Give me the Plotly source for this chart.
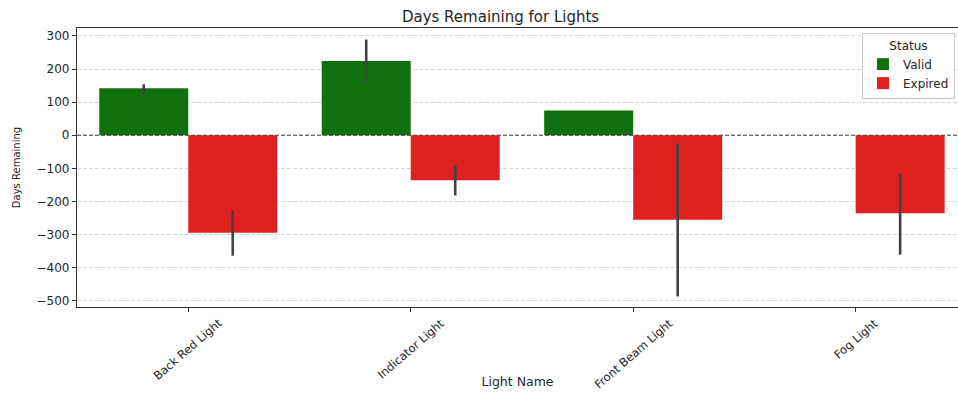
import plotly.graph_objects as go

# Light categories and mean days remaining per status, with CI bounds
lights = ["Back Red Light", "Indicator Light", "Front Beam Light", "Fog Light"]

valid_mean = [142, 224, 75, None]
valid_ci_low = [126, 162, None, None]
valid_ci_high = [154, 289, None, None]

expired_mean = [-295, -136, -255, -236]
expired_ci_low = [-364, -182, -487, -361]
expired_ci_high = [-227, -91, -25, -116]

statuses = ["Valid", "Expired"]
colors = {"Valid": "#107010", "Expired": "#df2020"}

y_ticks = [300, 200, 100, 0, -100, -200, -300, -400, -500]

TEXT = "#262626"
FONT = "DejaVu Sans"


def err_up(mean, high):
    return [None if m is None or h is None else h - m for m, h in zip(mean, high)]


def err_down(mean, low):
    return [None if m is None or l is None else m - l for m, l in zip(mean, low)]


fig = go.Figure()
for name, mean, lo, hi in [
    ("Valid", valid_mean, valid_ci_low, valid_ci_high),
    ("Expired", expired_mean, expired_ci_low, expired_ci_high),
]:
    fig.add_trace(go.Bar(
        x=lights,
        y=mean,
        name=name,
        marker=dict(color=colors[name], line=dict(width=0)),
        error_y=dict(
            type="data", symmetric=False,
            array=err_up(mean, hi), arrayminus=err_down(mean, lo),
            color="#424242", thickness=2.6, width=0,
        ),
    ))

# Dashed reference line at zero
fig.add_shape(type="line", xref="paper", yref="y", x0=0, x1=1, y0=0, y1=0,
              line=dict(color="#444444", width=1, dash="4px,2px"), layer="above")

# Rotated category labels centred under each tick
for name in lights:
    fig.add_annotation(x=name, xref="x", y=-0.022, yref="paper",
                       text=name, showarrow=False, textangle=-41,
                       xanchor="center", yanchor="top",
                       font=dict(family=FONT, size=11.5, color=TEXT))

fig.update_layout(
    width=958, height=399,
    margin=dict(l=77, r=0, t=28, b=92),
    paper_bgcolor="white", plot_bgcolor="white",
    barmode="group", bargap=0.2, bargroupgap=0,
    font=dict(family=FONT, color=TEXT),
    title=dict(text="Days Remaining for Lights", x=0.5225, xanchor="center",
               y=0.957, yanchor="middle",
               font=dict(family=FONT, size=15, color=TEXT)),
    legend=dict(
        title=dict(text="Status", side="top center",
                   font=dict(family=FONT, size=12, color=TEXT)),
        x=0.891, y=0.982, xanchor="left", yanchor="top",
        bordercolor="#cccccc", borderwidth=1, bgcolor="rgba(255,255,255,0.8)",
        font=dict(family=FONT, size=12, color=TEXT),
        tracegroupgap=0, itemwidth=30,
    ),
    showlegend=True,
)

fig.update_xaxes(
    range=[-0.5, 3.46],
    showticklabels=False,
    ticks="outside", ticklen=4, tickcolor="#333333",
    showline=True, linecolor="#333333", linewidth=1.2, mirror=True,
    showgrid=False, zeroline=False,
    title=dict(text="Light Name", standoff=66,
               font=dict(family=FONT, size=12.5, color=TEXT)),
)

fig.update_yaxes(
    range=[-519, 324],
    tickvals=y_ticks,
    ticks="outside", ticklen=4, tickcolor="#333333",
    tickfont=dict(family=FONT, size=12, color=TEXT),
    showline=True, linecolor="#333333", linewidth=1.2,
    showgrid=True, gridcolor="#d6d6d6", griddash="4px,2px", gridwidth=1,
    zeroline=False,
    title=dict(text="Days Remaining", standoff=14,
               font=dict(family=FONT, size=10, color=TEXT)),
)

fig.write_html("out.html")
